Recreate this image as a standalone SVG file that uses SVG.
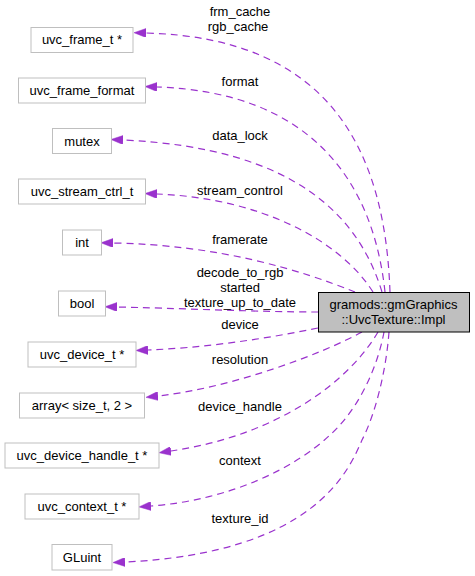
<svg xmlns="http://www.w3.org/2000/svg" width="475" height="576" viewBox="0 0 475 576">
<style>
text{font-family:"Liberation Sans",Arial,sans-serif;font-size:13px;fill:#000;text-anchor:middle}
.n rect{fill:#fff;stroke:#bfbfbf;stroke-width:1}
.m rect{fill:#bfbfbf;stroke:#000;stroke-width:1}
.e path{fill:none;stroke:#9a32cd;stroke-width:1.2;stroke-dasharray:7,5;marker-end:url(#ah)}
</style>
<defs>
<marker id="ah" viewBox="0 0 12 9" refX="0" refY="4.5" markerWidth="12" markerHeight="9" markerUnits="userSpaceOnUse" orient="auto">
<path d="M0,0 L12,4.5 L0,9 z" fill="#9a32cd" stroke="#9a32cd" stroke-width="0.5"/>
</marker>
</defs>
<rect width="475" height="576" fill="#fff"/>
<g id="edges" class="e">
<path d="M390,292 C385,150 330,38 146,33"/>
<path d="M385,292 C373,180 310,92 157,87"/>
<path d="M382,292 C360,220 300,148 123,140"/>
<path d="M373,292 C340,240 260,198 157,194"/>
<path d="M355,292 C300,270 220,245 113,243"/>
<path d="M318,312 C260,312 170,308 117,307"/>
<path d="M318,328 C260,340 200,348 148,350"/>
<path d="M362,332 C320,355 230,388 158,396"/>
<path d="M378,332 C350,380 280,435 171,451"/>
<path d="M384,332 C378,365 360,408 330,435 C295,468 230,500 151,506"/>
<path d="M389,332 C386,372 375,415 362,440 C349,470 315,553 125,562"/>
</g>
<g id="edge-labels">
<text x="240" y="16">frm_cache</text>
<text x="238" y="31">rgb_cache</text>
<text x="240" y="86">format</text>
<text x="240" y="140">data_lock</text>
<text x="240" y="195">stream_control</text>
<text x="240" y="244">framerate</text>
<text x="240" y="277">decode_to_rgb</text>
<text x="240" y="292">started</text>
<text x="240" y="307">texture_up_to_date</text>
<text x="240" y="329">device</text>
<text x="240" y="364">resolution</text>
<text x="240" y="411">device_handle</text>
<text x="240" y="465">context</text>
<text x="240" y="523">texture_id</text>
</g>
<g id="node-main" class="m">
<rect x="318.5" y="292.5" width="151" height="39.5"/>
<text x="393.5" y="308.5">gramods::gmGraphics</text>
<text x="393.5" y="323.5">::UvcTexture::Impl</text>
</g>
<g id="node-uvc_frame_t" class="n"><rect x="31" y="27.5" width="102" height="25"/><text x="82" y="44">uvc_frame_t *</text></g>
<g id="node-uvc_frame_format" class="n"><rect x="18.5" y="78" width="127" height="25"/><text x="82" y="95">uvc_frame_format</text></g>
<g id="node-mutex" class="n"><rect x="52.5" y="128.5" width="59" height="25"/><text x="82" y="145.5">mutex</text></g>
<g id="node-uvc_stream_ctrl_t" class="n"><rect x="18.5" y="179" width="127" height="25"/><text x="82" y="196">uvc_stream_ctrl_t</text></g>
<g id="node-int" class="n"><rect x="62.5" y="230" width="39" height="25"/><text x="82" y="247">int</text></g>
<g id="node-bool" class="n"><rect x="58.5" y="291" width="47" height="25"/><text x="82" y="308">bool</text></g>
<g id="node-uvc_device_t" class="n"><rect x="28" y="342" width="108" height="25"/><text x="82" y="358.5">uvc_device_t *</text></g>
<g id="node-array" class="n"><rect x="19.5" y="393" width="125" height="25"/><text x="82" y="409.5">array&lt; size_t, 2 &gt;</text></g>
<g id="node-uvc_device_handle_t" class="n"><rect x="5" y="443" width="154" height="25"/><text x="82" y="459.5">uvc_device_handle_t *</text></g>
<g id="node-uvc_context_t" class="n"><rect x="25" y="494" width="114" height="25"/><text x="82" y="511">uvc_context_t *</text></g>
<g id="node-GLuint" class="n"><rect x="52" y="544.5" width="60" height="25.5"/><text x="82" y="561.5">GLuint</text></g>
</svg>
